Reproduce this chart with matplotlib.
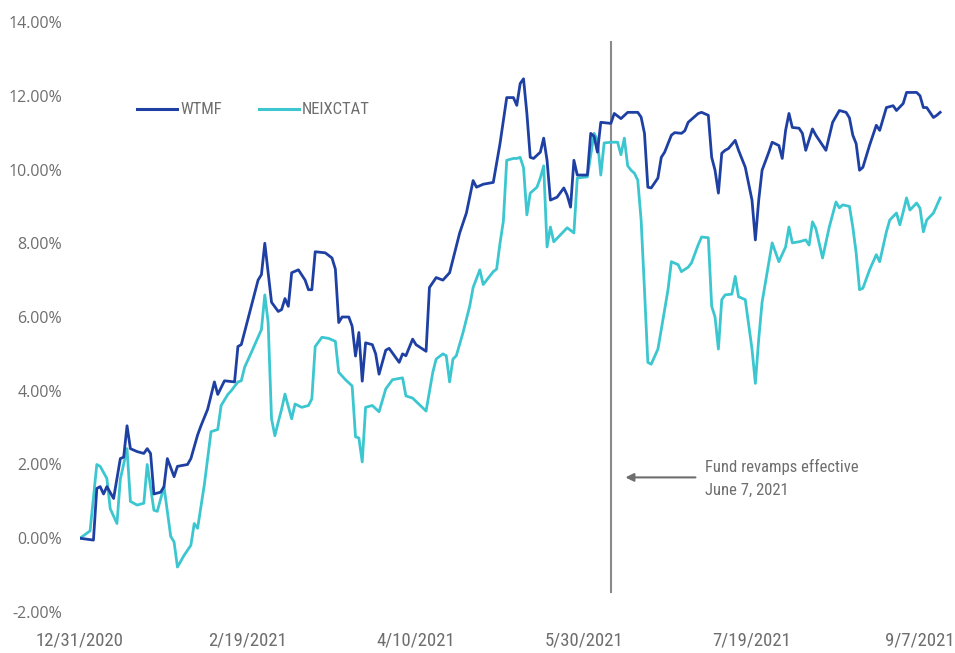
import matplotlib
matplotlib.use("Agg")
import matplotlib.pyplot as plt
import pandas as pd
from matplotlib.ticker import FuncFormatter

# ---------------- data ----------------
wtmf_dates = [
    "2020-12-31", "2021-01-04", "2021-01-05", "2021-01-06", "2021-01-07", "2021-01-08", "2021-01-10",
    "2021-01-12", "2021-01-13", "2021-01-14", "2021-01-15", "2021-01-17", "2021-01-19", "2021-01-20",
    "2021-01-21", "2021-01-22", "2021-01-24", "2021-01-25", "2021-01-26", "2021-01-28", "2021-01-29",
    "2021-02-01", "2021-02-02", "2021-02-04", "2021-02-05", "2021-02-07", "2021-02-09", "2021-02-10",
    "2021-02-12", "2021-02-15", "2021-02-16", "2021-02-17", "2021-02-22", "2021-02-23", "2021-02-24",
    "2021-02-25", "2021-02-26", "2021-02-28", "2021-03-01", "2021-03-02", "2021-03-03", "2021-03-04",
    "2021-03-06", "2021-03-08", "2021-03-09", "2021-03-10", "2021-03-11", "2021-03-14", "2021-03-16",
    "2021-03-17", "2021-03-18", "2021-03-19", "2021-03-21", "2021-03-22", "2021-03-23", "2021-03-24",
    "2021-03-25", "2021-03-26", "2021-03-28", "2021-03-29", "2021-03-30", "2021-04-01", "2021-04-02",
    "2021-04-05", "2021-04-06", "2021-04-07", "2021-04-09", "2021-04-10", "2021-04-13", "2021-04-14",
    "2021-04-16", "2021-04-18", "2021-04-20", "2021-04-23", "2021-04-25", "2021-04-27", "2021-04-28",
    "2021-04-30", "2021-05-03", "2021-05-05", "2021-05-07", "2021-05-09", "2021-05-10", "2021-05-11",
    "2021-05-12", "2021-05-13", "2021-05-14", "2021-05-15", "2021-05-17", "2021-05-18", "2021-05-19",
    "2021-05-20", "2021-05-22", "2021-05-24", "2021-05-25", "2021-05-26", "2021-05-27", "2021-05-28",
    "2021-05-31", "2021-06-01", "2021-06-02", "2021-06-03", "2021-06-04", "2021-06-07", "2021-06-08",
    "2021-06-10", "2021-06-12", "2021-06-15", "2021-06-16", "2021-06-17", "2021-06-18", "2021-06-19",
    "2021-06-21", "2021-06-22", "2021-06-23", "2021-06-25", "2021-06-26", "2021-06-28", "2021-06-29",
    "2021-06-30", "2021-07-03", "2021-07-04", "2021-07-06", "2021-07-07", "2021-07-08", "2021-07-09",
    "2021-07-10", "2021-07-11", "2021-07-12", "2021-07-14", "2021-07-15", "2021-07-17", "2021-07-19",
    "2021-07-20", "2021-07-21", "2021-07-22", "2021-07-24", "2021-07-25", "2021-07-27", "2021-07-28",
    "2021-07-29", "2021-07-30", "2021-07-31", "2021-08-02", "2021-08-03", "2021-08-04", "2021-08-06",
    "2021-08-07", "2021-08-10", "2021-08-12", "2021-08-14", "2021-08-16", "2021-08-17", "2021-08-18",
    "2021-08-19", "2021-08-20", "2021-08-21", "2021-08-23", "2021-08-25", "2021-08-26", "2021-08-28",
    "2021-08-30", "2021-08-31", "2021-09-02", "2021-09-03", "2021-09-06", "2021-09-07", "2021-09-08",
    "2021-09-09", "2021-09-11", "2021-09-12", "2021-09-13",
]
wtmf_values = [
    0.0, -0.05, 1.35, 1.4, 1.2, 1.4, 1.08,
    2.16, 2.2, 3.05, 2.43, 2.35, 2.3, 2.43,
    2.3, 1.2, 1.25, 1.4, 2.16, 1.67, 1.95,
    2.0, 2.16, 2.8, 3.05, 3.5, 4.24, 3.9,
    4.27, 4.24, 5.2, 5.25, 7.0, 7.15, 8.0,
    7.2, 6.4, 6.15, 6.2, 6.5, 6.29, 7.2,
    7.28, 7.0, 6.74, 6.74, 7.77, 7.74, 7.6,
    7.3, 5.85, 6.0, 6.0, 5.75, 4.94, 5.58,
    4.26, 5.3, 5.25, 5.0, 4.45, 5.1, 5.15,
    4.77, 5.0, 4.95, 5.4, 5.25, 5.07, 6.8,
    7.07, 7.0, 7.2, 8.28, 8.82, 9.7, 9.52,
    9.6, 9.65, 10.7, 11.95, 11.95, 11.74, 12.33,
    12.46, 11.52, 10.33, 10.3, 10.47, 10.85, 10.25,
    9.17, 9.25, 9.5, 9.3, 8.98, 10.25, 9.85,
    9.85, 10.98, 10.9, 10.47, 11.28, 11.25, 11.52,
    11.38, 11.55, 11.55, 11.42, 10.98, 9.52, 9.5,
    9.77, 10.33, 10.47, 10.93, 11.0, 10.98, 11.05,
    11.28, 11.52, 11.55, 11.47, 10.33, 9.98, 9.36,
    10.44, 10.52, 10.57, 10.79, 10.52, 10.06, 9.17,
    8.09, 9.17, 9.98, 10.47, 10.74, 10.65, 10.3,
    11.06, 11.52, 11.14, 11.12, 10.98, 10.52, 11.1,
    10.93, 10.52, 11.28, 11.6, 11.55, 11.4, 10.93,
    10.7, 9.98, 10.06, 10.66, 11.2, 11.06, 11.68,
    11.73, 11.6, 11.79, 12.09, 12.09, 12.0, 11.68,
    11.68, 11.41, 11.47, 11.55,
]

neix_dates = [
    "2020-12-31", "2021-01-03", "2021-01-05", "2021-01-06", "2021-01-08", "2021-01-09", "2021-01-11",
    "2021-01-12", "2021-01-14", "2021-01-15", "2021-01-17", "2021-01-19", "2021-01-20", "2021-01-22",
    "2021-01-23", "2021-01-25", "2021-01-27", "2021-01-28", "2021-01-29", "2021-01-31", "2021-02-02",
    "2021-02-03", "2021-02-04", "2021-02-06", "2021-02-08", "2021-02-10", "2021-02-11", "2021-02-13",
    "2021-02-14", "2021-02-16", "2021-02-17", "2021-02-18", "2021-02-20", "2021-02-22", "2021-02-23",
    "2021-02-24", "2021-02-25", "2021-02-26", "2021-02-27", "2021-02-28", "2021-03-01", "2021-03-02",
    "2021-03-04", "2021-03-05", "2021-03-07", "2021-03-09", "2021-03-10", "2021-03-11", "2021-03-13",
    "2021-03-15", "2021-03-17", "2021-03-18", "2021-03-20", "2021-03-22", "2021-03-23", "2021-03-24",
    "2021-03-25", "2021-03-26", "2021-03-28", "2021-03-30", "2021-04-01", "2021-04-03", "2021-04-06",
    "2021-04-07", "2021-04-09", "2021-04-13", "2021-04-15", "2021-04-16", "2021-04-18", "2021-04-19",
    "2021-04-20", "2021-04-21", "2021-04-22", "2021-04-24", "2021-04-26", "2021-04-27", "2021-04-29",
    "2021-04-30", "2021-05-03", "2021-05-04", "2021-05-05", "2021-05-06", "2021-05-07", "2021-05-09",
    "2021-05-10", "2021-05-11", "2021-05-12", "2021-05-13", "2021-05-14", "2021-05-16", "2021-05-17",
    "2021-05-18", "2021-05-19", "2021-05-20", "2021-05-21", "2021-05-23", "2021-05-25", "2021-05-27",
    "2021-05-28", "2021-05-31", "2021-06-02", "2021-06-03", "2021-06-04", "2021-06-05", "2021-06-07",
    "2021-06-08", "2021-06-09", "2021-06-10", "2021-06-11", "2021-06-12", "2021-06-13", "2021-06-14",
    "2021-06-15", "2021-06-16", "2021-06-17", "2021-06-18", "2021-06-19", "2021-06-21", "2021-06-22",
    "2021-06-24", "2021-06-25", "2021-06-27", "2021-06-28", "2021-06-30", "2021-07-01", "2021-07-03",
    "2021-07-04", "2021-07-06", "2021-07-07", "2021-07-08", "2021-07-09", "2021-07-10", "2021-07-11",
    "2021-07-13", "2021-07-14", "2021-07-15", "2021-07-17", "2021-07-19", "2021-07-20", "2021-07-21",
    "2021-07-22", "2021-07-24", "2021-07-25", "2021-07-27", "2021-07-29", "2021-07-30", "2021-07-31",
    "2021-08-02", "2021-08-04", "2021-08-05", "2021-08-06", "2021-08-07", "2021-08-09", "2021-08-11",
    "2021-08-13", "2021-08-14", "2021-08-15", "2021-08-17", "2021-08-18", "2021-08-19", "2021-08-20",
    "2021-08-21", "2021-08-23", "2021-08-25", "2021-08-26", "2021-08-28", "2021-08-29", "2021-08-31",
    "2021-09-01", "2021-09-02", "2021-09-03", "2021-09-04", "2021-09-06", "2021-09-07", "2021-09-08",
    "2021-09-09", "2021-09-11", "2021-09-13",
]
neix_values = [
    0.0, 0.2, 2.0, 1.95, 1.62, 0.8, 0.4,
    1.6, 2.43, 1.0, 0.9, 0.95, 2.0, 0.76,
    0.73, 1.4, 0.05, -0.1, -0.78, -0.46, -0.19,
    0.4, 0.27, 1.45, 2.89, 2.95, 3.6, 3.9,
    4.0, 4.24, 4.27, 4.64, 5.04, 5.45, 5.66,
    6.6, 5.85, 3.24, 2.78, 3.15, 3.5, 3.91,
    3.24, 3.64, 3.55, 3.6, 3.78, 5.2, 5.45,
    5.42, 5.34, 4.5, 4.3, 4.13, 2.75, 2.72,
    2.07, 3.55, 3.6, 3.43, 4.05, 4.3, 4.35,
    3.86, 3.8, 3.45, 4.5, 4.86, 5.0, 4.95,
    4.24, 4.86, 4.95, 5.58, 6.3, 6.8, 7.28,
    6.88, 7.23, 7.3, 8.0, 8.6, 10.25, 10.3,
    10.3, 10.33, 10.05, 8.77, 9.36, 9.52, 9.77,
    10.1, 7.9, 8.44, 8.04, 8.23, 8.42, 8.28,
    9.77, 9.8, 10.98, 10.8, 9.85, 10.72, 10.74,
    10.74, 10.74, 10.4, 10.85, 10.1, 9.98, 9.9,
    9.71, 8.63, 6.74, 4.77, 4.72, 5.13, 5.66,
    6.74, 7.5, 7.42, 7.23, 7.35, 7.47, 7.96,
    8.17, 8.15, 6.29, 6.0, 5.13, 6.47, 6.6,
    6.62, 7.1, 6.55, 6.47, 5.13, 4.2, 5.4,
    6.4, 7.47, 8.01, 7.5, 7.9, 8.44, 8.01,
    8.04, 8.09, 7.95, 8.58, 8.4, 7.6, 8.44,
    9.12, 8.96, 9.04, 9.0, 8.44, 7.74, 6.74,
    6.78, 7.28, 7.69, 7.5, 8.31, 8.63, 8.82,
    8.5, 8.85, 9.23, 8.9, 9.09, 8.95, 8.31,
    8.63, 8.82, 9.23,
]

series_names = ["WTMF", "NEIXCTAT"]
x_tick_dates = ["2020-12-31", "2021-02-19", "2021-04-10", "2021-05-30", "2021-07-19", "2021-09-07"]
x_tick_labels = ["12/31/2020", "2/19/2021", "4/10/2021", "5/30/2021", "7/19/2021", "9/7/2021"]
y_ticks = [-2, 0, 2, 4, 6, 8, 10, 12, 14]
event_date = "2021-06-07"
event_text = "Fund revamps effective\nJune 7, 2021"

# ---------------- style ----------------
C_WTMF = "#1f40a3"
C_NEIX = "#3cc6cf"
C_TEXT = "#6e6e6e"
NARROW = ["Liberation Sans Narrow", "Roboto Condensed", "DejaVu Sans"]

W, H = 955, 653
fig = plt.figure(figsize=(W / 100, H / 100), dpi=100)
ax_left, ax_right, ax_top, ax_bottom = 80, 80 + 257 * 3.36, 22, 612
ax = fig.add_axes([ax_left / W, (H - ax_bottom) / H, (ax_right - ax_left) / W, (ax_bottom - ax_top) / H])

wd = pd.to_datetime(wtmf_dates)
nd = pd.to_datetime(neix_dates)
ax.plot(wd, wtmf_values, color=C_WTMF, lw=2.0, label=series_names[0], solid_joinstyle="round", zorder=3)
ax.plot(nd, neix_values, color=C_NEIX, lw=2.0, label=series_names[1], solid_joinstyle="round", zorder=2)

ax.set_xlim(pd.Timestamp("2020-12-31"), pd.Timestamp("2021-09-14"))
ax.set_ylim(-2, 14)

for s in ax.spines.values():
    s.set_visible(False)

ax.set_xticks(pd.to_datetime(x_tick_dates))
ax.set_xticklabels(x_tick_labels, family=NARROW, fontsize=13.5, color=C_TEXT)
ax.set_yticks(y_ticks)
ax.yaxis.set_major_formatter(FuncFormatter(lambda v, p: f"{v:.2f}%"))
for lab in ax.get_yticklabels():
    lab.set_family(["Open Sans", "DejaVu Sans"])
    lab.set_fontsize(11.5)
    lab.set_color(C_TEXT)
ax.tick_params(axis="both", length=0)
ax.tick_params(axis="y", pad=13)
ax.tick_params(axis="x", pad=14)

# event line
ev = pd.Timestamp(event_date)
ax.axvline(ev, ymin=(ax_bottom - 592) / (ax_bottom - ax_top), ymax=(ax_bottom - 42) / (ax_bottom - ax_top),
           color="#8a8a8a", lw=1.5, zorder=1)

# annotation arrow + text
ax.annotate("", xy=(ev + pd.Timedelta(days=3.5), 1.65), xytext=(ev + pd.Timedelta(days=26), 1.65),
            arrowprops=dict(arrowstyle="-|>", color="#6e6e6e", lw=1.5, mutation_scale=12))
ax.text(ev + pd.Timedelta(days=28), 1.62, event_text, family=NARROW, fontsize=12, color=C_TEXT,
        va="center", ha="left", linespacing=1.7)

# legend
leg = fig.legend(loc="center left", bbox_to_anchor=(137 / W, 1 - 110 / H), ncol=2, frameon=False,
                 handlelength=2.4, handletextpad=0.2, columnspacing=2.2, borderpad=0, borderaxespad=0,
                 prop={"family": NARROW, "size": 12}, labelcolor=C_TEXT)
for line in leg.get_lines():
    line.set_linewidth(2.2)

fig.savefig("out.png", dpi=100)
